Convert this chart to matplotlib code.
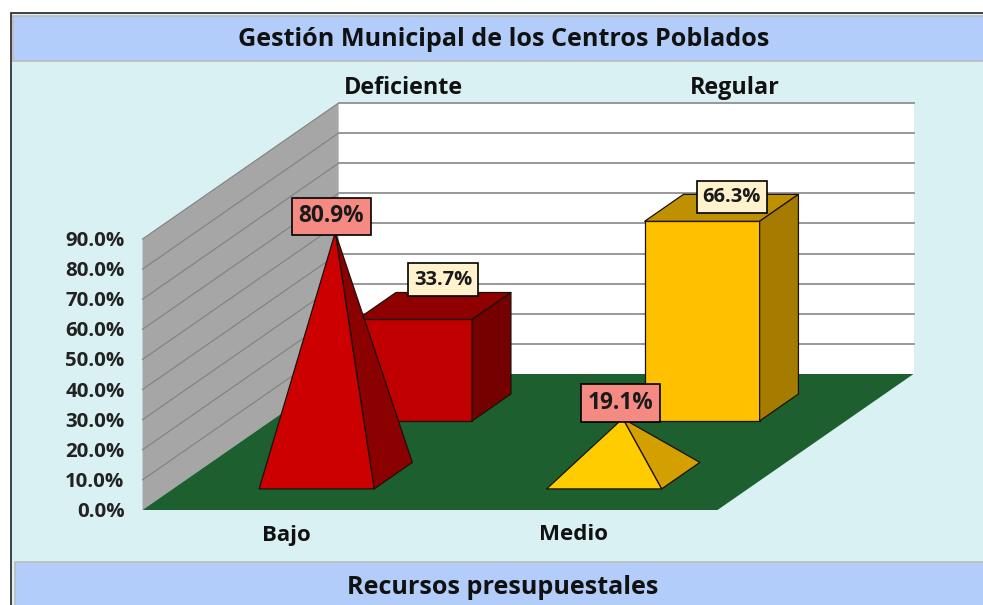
import matplotlib
matplotlib.use("Agg")
import matplotlib.pyplot as plt
from matplotlib.patches import Polygon, Rectangle

title = "Gestión Municipal de los Centros Poblados"
x_title = "Recursos presupuestales"
categories = ["Bajo", "Medio"]
rows = ["Deficiente", "Regular"]
ticks = [0, 10, 20, 30, 40, 50, 60, 70, 80, 90]
deficiente = [80.9, 33.7]
regular = [19.1, 66.3]

plt.rcParams["font.family"] = ["Open Sans", "Liberation Sans", "DejaVu Sans"]

# oblique projection of (category, row, percent) onto picture pixels
X0, Y0 = 142.5, 510
CAT_W = 287.5
ROW_DX, ROW_DY = 98, 68
PCT_H = 3.011


def proj(x, d, v=0):
    return (X0 + x * CAT_W + d * ROW_DX, Y0 - d * ROW_DY - v * PCT_H)


def face(ax, pts, color, edge="#1a1208", lw=0.9, z=2):
    ax.add_patch(Polygon(pts, closed=True, facecolor=color, edgecolor=edge,
                         linewidth=lw, zorder=z, joinstyle="round"))


def draw_bar(ax, i, j, value, front, top, side, z):
    x0, x1 = i + 0.3, i + 0.7
    d0, d1 = j + 0.31, j + 0.706
    face(ax, [proj(x0, d0), proj(x1, d0), proj(x1, d0, value), proj(x0, d0, value)], front, z=z)
    face(ax, [proj(x0, d0, value), proj(x1, d0, value), proj(x1, d1, value), proj(x0, d1, value)], top, z=z)
    face(ax, [proj(x1, d0), proj(x1, d1), proj(x1, d1, value), proj(x1, d0, value)], side, z=z)
    return proj(i + 0.5, j + 0.5, value)


def draw_pyramid(ax, i, j, value, front, side, z):
    x0, x1 = i + 0.3, i + 0.7
    d0, d1 = j + 0.31, j + 0.7
    apex = proj(i + 0.5, j + 0.5, value)
    face(ax, [proj(x1, d0), proj(x1, d1), apex], side, z=z)
    face(ax, [proj(x0, d0), proj(x1, d0), apex], front, z=z)
    return apex


def value_label(ax, anchor, value, dx, dy, color, size, z):
    ax.text(anchor[0] + dx, anchor[1] + dy, f"{value:.1f}%", ha="center", va="center",
            fontsize=size, fontweight="bold", color="#1a1a1a", zorder=z,
            bbox=dict(boxstyle="square,pad=0.3", facecolor=color, edgecolor="black", linewidth=1.2))


fig = plt.figure(figsize=(9.83, 6.05), dpi=100)
ax = fig.add_axes([0, 0, 1, 1])
ax.set_xlim(0, 983)
ax.set_ylim(605, 0)
ax.axis("off")

# chart area and header bands
ax.add_patch(Rectangle((10.5, 13), 975, 600, facecolor="#D9F1F3", edgecolor="#222222", linewidth=1.2, zorder=0))
ax.add_patch(Rectangle((13, 16), 975, 45, facecolor="#B2CDF9", edgecolor="#BBBBBB", linewidth=1.2, zorder=1))
ax.add_patch(Rectangle((15, 562), 975, 50, facecolor="#B2CDF9", edgecolor="#BBBBBB", linewidth=1.2, zorder=1))
ax.text(504, 39.5, title, ha="center", va="center", fontsize=18.1, fontweight="bold", color="#111111", zorder=3)
ax.text(503, 587, x_title, ha="center", va="center", fontsize=18.1, fontweight="bold", color="#111111", zorder=3)

# walls and floor
top = ticks[-1]
face(ax, [proj(0, 2), proj(2, 2), proj(2, 2, top), proj(0, 2, top)], "white", edge="none", z=1)
face(ax, [proj(0, 0), proj(0, 2), proj(0, 2, top), proj(0, 0, top)], "#A6A6A6", edge="none", z=1)
face(ax, [proj(0, 0), proj(2, 0), proj(2, 2), proj(0, 2)], "#1E5F30", edge="none", z=1)
for t in ticks[1:]:
    ax.plot(*zip(proj(0, 0, t), proj(0, 2, t)), color="#808080", linewidth=0.8, zorder=1.5)
    ax.plot(*zip(proj(0, 2, t), proj(2, 2, t)), color="#909090", linewidth=1.3, zorder=1.5)
for t in ticks:
    px, py = proj(0, 0, t)
    ax.text(px - 18, py + 2, f"{t:.1f}%", ha="right", va="center", fontsize=14.7,
            fontweight="bold", color="#222222", zorder=3)

# category and row labels
for i, cat in enumerate(categories):
    px, py = proj(i + 0.5, 0)
    ax.text(px, py + 25, cat, ha="center", va="center", fontsize=16,
            fontweight="bold", color="#111111", zorder=3)
row_anchor = [0.226, 1.38]
for j, row in enumerate(rows):
    px, py = proj(row_anchor[j], 2, top)
    ax.text(px, py - 15, row, ha="center", va="center", fontsize=16.8,
            fontweight="bold", color="#111111", zorder=3)

# back row bars, front row pyramids
t1 = draw_bar(ax, 0, 1, deficiente[1], "#C00000", "#8F0000", "#750000", 4)
t2 = draw_bar(ax, 1, 1, regular[1], "#FFC000", "#BF9000", "#A67C00", 4)
a1 = draw_pyramid(ax, 0, 0, deficiente[0], "#CC0000", "#8B0000", 6)
a2 = draw_pyramid(ax, 1, 0, regular[0], "#FFCC00", "#D4A000", 6)

value_label(ax, t1, deficiente[1], 10, -27, "#FFF2CC", 14.5, 8)
value_label(ax, t2, regular[1], 11, -11, "#FFF2CC", 14.5, 8)
value_label(ax, a1, deficiente[0], -4, -16, "#F48A82", 16.3, 8)
value_label(ax, a2, regular[0], -2, -15.5, "#F48A82", 16.3, 8)

fig.savefig("out.png", dpi=100)
plt.close(fig)
